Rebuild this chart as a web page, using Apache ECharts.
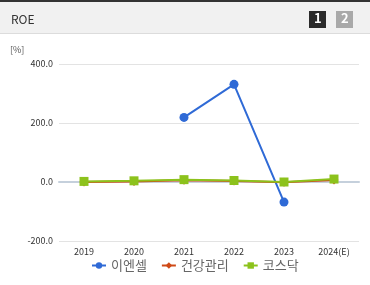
<!DOCTYPE html>
<html>
<head>
<meta charset="utf-8">
<script src="https://cdn.jsdelivr.net/npm/echarts@6/dist/echarts.min.js"></script>
<style>
  html, body { margin: 0; padding: 0; background: #fff; }
  #main { width: 370px; height: 285px; }
</style>
</head>
<body>
<div id="main"></div>
<script>
// 연도 구분
const years = ['2019', '2020', '2021', '2022', '2023', '2024(E)']
// 시리즈 값 (ROE, %)
const enCell = [null, null, 219, 331, -68, null]
const health = [0, 2, 6, 3, -1, 7]
const kosdaq = [2, 4, 8, 5, 0, 10]
const yTicks = [-200, 0, 200, 400]

const chart = echarts.init(document.getElementById('main'))
const font = "'Noto Sans CJK KR', 'Noto Sans', sans-serif"

const option = {
  animation: false,
  textStyle: { fontFamily: font },
  graphic: [
    // 헤더 배경
    { type: 'rect', left: 0, top: 0, shape: { width: 370, height: 34 }, style: { fill: '#f1f1f1' } },
    { type: 'rect', left: 0, top: 0, shape: { width: 370, height: 2 }, style: { fill: '#333' } },
    { type: 'rect', left: 0, top: 33, shape: { width: 370, height: 1 }, style: { fill: '#dcdcdc' } },
    { type: 'text', left: 11, top: 13, style: { text: 'ROE', fill: '#333', font: '12px ' + font } },
    // 페이지 버튼
    { type: 'rect', left: 309, top: 11, shape: { width: 17, height: 17 }, style: { fill: '#2b2b2b' } },
    { type: 'text', left: 314, top: 12, style: { text: '1', fill: '#fff', font: 'bold 13px ' + font } },
    { type: 'rect', left: 336, top: 11, shape: { width: 17, height: 17 }, style: { fill: '#a9a9a9' } },
    { type: 'text', left: 341, top: 12, style: { text: '2', fill: '#fff', font: 'bold 13px ' + font } },
    // 단위
    { type: 'text', left: 10, top: 45, style: { text: '[%]', fill: '#555', font: '9px ' + font } }
  ],
  color: ['#2f6ad6', '#cf4a17', '#8cc21c'],
  legend: {
    bottom: 8,
    left: 86,
    itemGap: 14,
    itemWidth: 14,
    itemHeight: 8,
    textStyle: { fontSize: 13, color: '#666', fontFamily: font },
    data: ['이엔셀', '건강관리', '코스닥']
  },
  grid: { left: 59, right: 11, top: 64, bottom: 44 },
  xAxis: {
    type: 'category',
    data: years,
    boundaryGap: true,
    axisLine: { lineStyle: { color: '#c5d0dc', width: 2 } },
    axisTick: { lineStyle: { color: '#c5d0dc' }, length: 4 },
    axisLabel: { fontSize: 9, color: '#333', margin: 6 }
  },
  yAxis: {
    type: 'value',
    min: -200,
    max: 400,
    interval: 200,
    axisLine: { show: false },
    axisTick: { show: false },
    splitLine: { lineStyle: { color: '#e3e3e3' } },
    axisLabel: {
      fontSize: 9,
      color: '#333',
      margin: 6,
      formatter: v => yTicks.includes(v) ? v.toFixed(1) : ''
    }
  },
  series: [
    {
      name: '이엔셀', type: 'line', data: enCell,
      symbol: 'circle', symbolSize: 9,
      lineStyle: { width: 2 }
    },
    {
      name: '건강관리', type: 'line', data: health,
      symbol: 'diamond', symbolSize: 9,
      lineStyle: { width: 2 }
    },
    {
      name: '코스닥', type: 'line', data: kosdaq,
      symbol: 'rect', symbolSize: 9,
      lineStyle: { width: 2 }
    }
  ]
}

chart.setOption(option)
</script>
</body>
</html>
